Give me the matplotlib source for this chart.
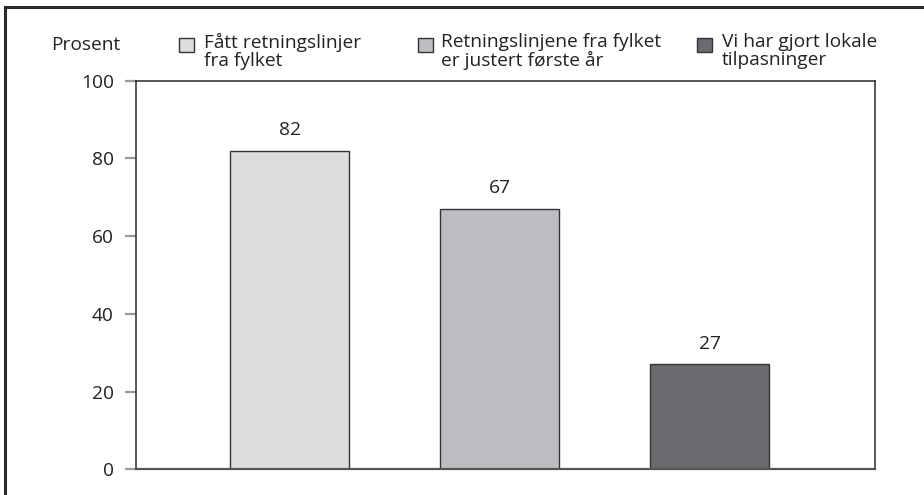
import matplotlib
matplotlib.use("Agg")
from matplotlib import pyplot as plt
from matplotlib.patches import Rectangle
from matplotlib.lines import Line2D

plt.rcParams['font.family'] = ['Open Sans', 'DejaVu Sans']

categories = ["Fått retningslinjer\nfra fylket",
              "Retningslinjene fra fylket\ner justert første år",
              "Vi har gjort lokale\ntilpasninger"]
values = [82, 67, 27]
colors = ['#dcdddf', '#bdbec1', '#6a6b6e']
yticks = [0, 20, 40, 60, 80, 100]

W, H = 924, 495
fig = plt.figure(figsize=(W / 100, H / 100), dpi=100)

def fx(px):
    return px / W

def fy(py):
    return 1 - py / H

FS = 13.8

# axes placed in pixel coordinates
left, right, top, bottom = 136, 875, 80.7, 469.3
ax = fig.add_axes([fx(left), fy(bottom), fx(right - left), (bottom - top) / H])

x = list(range(len(values)))
ax.bar(x, values, width=0.567, color=colors, edgecolor='#333333', linewidth=1.0, zorder=2)
for xi, v in zip(x, values):
    ax.annotate(str(v), (xi, v), xytext=(0, 15), textcoords='offset points',
                ha='center', va='center', fontsize=FS, color='#222222')

ax.set_xlim(-0.733, 2.786)
ax.set_ylim(0, 100)
ax.set_xticks([])
ax.set_yticks(yticks)
ax.tick_params(axis='y', length=8, width=1.6, color='#9a9a9a', pad=8,
               labelsize=FS, labelcolor='#222222')
for s in ['top', 'right', 'left']:
    ax.spines[s].set_color('#2a2a2a')
    ax.spines[s].set_linewidth(1.1)
ax.spines['bottom'].set_color('#555555')
ax.spines['bottom'].set_linewidth(1.6)

# y label
fig.text(fx(120), fy(45), "Prosent", ha='right', va='center', fontsize=FS, color='#222222')

# legend drawn manually
patch_x = [179, 418, 697]
text_x = [204, 441, 722]
for px, tx, lab, c in zip(patch_x, text_x, categories, colors):
    fig.patches.append(Rectangle((fx(px), fy(52)), fx(15), 14 / H, transform=fig.transFigure,
                                 facecolor=c, edgecolor='#333333', linewidth=1.0))
    fig.text(fx(tx), fy(33), lab, ha='left', va='top', fontsize=FS, color='#222222',
             linespacing=0.98)

# outer frame (top and left)
fig.add_artist(Line2D([fx(5), 1], [fy(7), fy(7)], transform=fig.transFigure,
                      color='#2a2a2a', linewidth=2.2))
fig.add_artist(Line2D([fx(5), fx(5)], [fy(7), 0], transform=fig.transFigure,
                      color='#2a2a2a', linewidth=2.2))

fig.savefig("out.png", dpi=100)
